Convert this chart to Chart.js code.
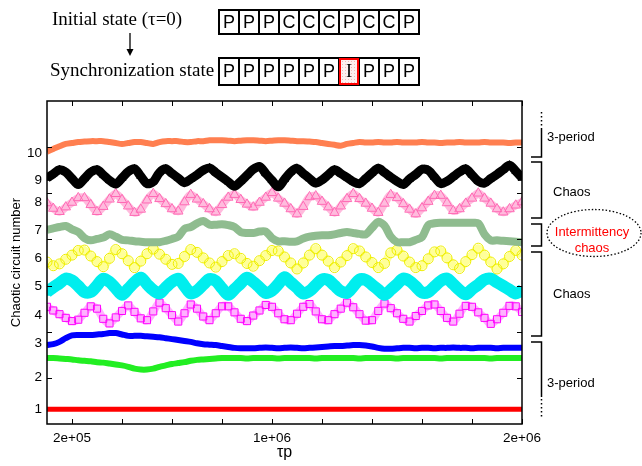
<!DOCTYPE html>
<html lang="en">
<head>
<meta charset="UTF-8">
<title>Chaotic circuit number vs tau_p</title>
<script src="https://cdn.jsdelivr.net/npm/chart.js"></script>
<style>
  body { margin: 0; background: #fff; }
  .fig { position: relative; width: 642px; height: 466px; color: #000;
         font-family: 'Liberation Sans', Arial, Helvetica, sans-serif; }
  .fig canvas { position: absolute; left: 0; top: 0; }
  .fig svg { position: absolute; left: 0; top: 0; }
  .txt { position: absolute; white-space: nowrap; line-height: 1; }
  .serif { font-family: 'Liberation Serif', 'Times New Roman', serif; font-size: 19px; }
  .cells { position: absolute; display: flex; border: 1px solid #000; }
  .cells div { width: 20px; box-sizing: border-box; border: 1px solid #000; font-size: 18px;
               display: flex; align-items: center; justify-content: center; }
  .cells div.hot { border: 2px solid #f00; font-family: 'Liberation Serif', serif;
                   background: radial-gradient(#f4b8b8 0.6px, #fdf0f0 0.8px) 0 0 / 3px 3px; }
  .note { position: absolute; font-size: 13px; line-height: 1; white-space: nowrap; }
  .note.red { color: #f00; width: 100px; text-align: center; }
</style>
</head>
<body>
<div class="fig">
  <canvas id="chart" width="642" height="466"></canvas>

  <div class="txt serif" style="left:52px;top:9px">Initial state (τ=0)</div>
  <div class="txt serif" style="left:50px;top:60px">Synchronization state</div>
  <div class="cells" id="row1" style="left:218px;top:9px;height:24px"></div>
  <div class="cells" id="row2" style="left:218px;top:57px;height:27px"></div>

  <svg width="642" height="466">
    <line x1="130" y1="33" x2="130" y2="50" stroke="#000" stroke-width="1.3"/>
    <polygon points="126.5,49 133.5,49 130,56" fill="#000"/>
    <g stroke="#000" stroke-width="1.5" fill="none">
      <line x1="541.5" y1="112" x2="541.5" y2="128" stroke-dasharray="1.5,2.5"/>
      <path d="M541.5,128 V157 H531"/>
      <path d="M531,162 H541.5 V218 H531"/>
      <path d="M531,224 H541.5 V246 H531"/>
      <path d="M531,252 H541.5 V336 H531"/>
      <path d="M531,342 H541.5 V397"/>
      <line x1="541.5" y1="399" x2="541.5" y2="418" stroke-dasharray="1.5,2.5"/>
      <ellipse cx="594" cy="233" rx="47" ry="23.5" stroke-width="1.3" stroke-dasharray="1.5,2"/>
    </g>
  </svg>

  <div class="note" style="left:547px;top:130px">3-period</div>
  <div class="note" style="left:553px;top:185px">Chaos</div>
  <div class="note red" style="left:542px;top:225px">Intermittency</div>
  <div class="note red" style="left:542px;top:241px">chaos</div>
  <div class="note" style="left:553px;top:287px">Chaos</div>
  <div class="note" style="left:547px;top:376px">3-period</div>
</div>

<script>
// tau_p sampling, in thousands
const tauK = [
  100,125,150,175,200,225,250,275,300,325,
  350,375,400,425,450,475,500,525,550,575,
  600,625,650,675,700,725,750,775,800,825,
  850,875,900,925,950,975,1000,1025,1050,1075,
  1100,1125,1150,1175,1200,1225,1250,1275,1300,1325,
  1350,1375,1400,1425,1450,1475,1500,1525,1550,1575,
  1600,1625,1650,1675,1700,1725,1750,1775,1800,1825,
  1850,1875,1900,1925,1950,1975,2000
];
const tau = tauK.map(v => v * 1000);

// one trace per circuit (offset on the y axis)
const circuit10 = [
  5.90,5.96,6.02,6.07,6.09,6.11,6.12,6.13,6.13,6.13,
  6.11,6.09,6.07,6.09,6.11,6.11,6.09,6.07,6.11,6.13,
  6.13,6.13,6.11,6.11,6.13,6.13,6.15,6.15,6.15,6.14,
  6.13,6.14,6.15,6.15,6.14,6.13,6.14,6.15,6.15,6.14,
  6.13,6.13,6.12,6.11,6.09,6.07,6.05,6.03,6.07,6.09,
  6.11,6.10,6.10,6.11,6.10,6.10,6.11,6.10,6.10,6.10,
  6.11,6.10,6.10,6.09,6.10,6.10,6.11,6.10,6.10,6.10,
  6.11,6.10,6.10,6.10,6.09,6.10,6.10
];
const circuit9 = [
  5.33,5.42,5.51,5.46,5.32,5.19,5.32,5.46,5.51,5.40,
  5.28,5.20,5.33,5.47,5.53,5.37,5.21,5.25,5.45,5.53,
  5.43,5.33,5.23,5.31,5.40,5.50,5.55,5.45,5.35,5.25,
  5.15,5.26,5.39,5.52,5.58,5.43,5.28,5.14,5.30,5.46,
  5.54,5.43,5.32,5.22,5.29,5.40,5.51,5.43,5.34,5.25,
  5.21,5.32,5.44,5.54,5.45,5.35,5.26,5.19,5.31,5.41,
  5.52,5.50,5.35,5.21,5.26,5.36,5.46,5.53,5.40,5.26,
  5.22,5.32,5.41,5.51,5.61,5.48,5.33
];
const circuit8 = [
  4.79,4.67,4.60,4.70,4.80,4.90,4.90,4.75,4.60,4.71,
  4.87,4.99,4.86,4.72,4.58,4.65,4.85,4.99,4.88,4.77,
  4.66,4.61,4.81,4.97,4.87,4.77,4.66,4.59,4.75,4.91,
  4.97,4.86,4.76,4.70,4.80,4.91,5.01,4.89,4.78,4.66,
  4.55,4.71,4.92,4.94,4.82,4.70,4.58,4.72,4.88,4.99,
  4.88,4.78,4.67,4.58,4.78,4.97,4.90,4.77,4.65,4.55,
  4.68,4.82,4.95,4.95,4.79,4.62,4.66,4.78,4.89,5.00,
  4.89,4.78,4.66,4.59,4.66,4.74,4.81
];
const circuit7 = [
  4.21,4.24,4.27,4.29,4.22,4.16,4.03,3.98,4.01,4.04,
  4.11,4.06,3.99,3.98,3.96,3.95,3.94,3.94,3.94,3.97,
  4.01,4.06,4.23,4.27,4.35,4.40,4.32,4.32,4.33,4.31,
  4.27,4.16,4.14,4.14,4.17,4.17,4.03,3.96,3.96,3.95,
  3.96,4.02,4.06,4.08,4.09,4.09,4.11,4.14,4.16,4.14,
  4.12,4.11,4.25,4.38,4.30,4.06,3.94,3.94,3.94,3.99,
  4.05,4.31,4.35,4.36,4.36,4.36,4.36,4.36,4.36,4.35,
  4.11,3.98,3.98,3.97,3.96,3.95,3.94
];
const circuit6 = [
  3.51,3.43,3.47,3.57,3.66,3.76,3.77,3.64,3.52,3.41,
  3.59,3.78,3.69,3.54,3.39,3.53,3.69,3.79,3.68,3.57,
  3.46,3.48,3.63,3.78,3.72,3.60,3.49,3.40,3.52,3.65,
  3.69,3.59,3.48,3.42,3.54,3.65,3.76,3.75,3.62,3.49,
  3.36,3.49,3.66,3.80,3.66,3.53,3.39,3.51,3.65,3.80,
  3.75,3.62,3.50,3.39,3.48,3.71,3.77,3.64,3.51,3.39,
  3.43,3.58,3.73,3.75,3.60,3.45,3.37,3.52,3.67,3.81,
  3.66,3.51,3.36,3.47,3.63,3.76,3.66
];
const circuit5 = [
  2.86,2.96,3.05,3.15,3.11,2.99,2.86,2.86,3.00,3.15,
  3.08,2.94,2.80,2.93,3.07,3.17,3.03,2.90,2.83,2.96,
  3.08,3.15,2.99,2.83,2.89,3.02,3.14,3.10,2.94,2.80,
  2.92,3.05,3.17,3.08,2.96,2.84,2.89,3.03,3.18,3.07,
  2.95,2.83,2.88,3.01,3.13,3.12,3.00,2.88,2.84,2.98,
  3.13,3.12,3.02,2.91,2.80,2.91,3.03,3.15,3.10,2.98,
  2.85,2.86,2.98,3.10,3.15,3.03,2.90,2.81,2.92,3.02,
  3.13,3.15,3.07,2.99,2.91,2.83,2.90
];
const circuit4 = [
  2.54,2.46,2.38,2.30,2.23,2.26,2.41,2.55,2.50,2.28,
  2.18,2.31,2.45,2.57,2.43,2.29,2.25,2.44,2.63,2.51,
  2.36,2.22,2.40,2.59,2.50,2.33,2.25,2.40,2.55,2.55,
  2.42,2.28,2.23,2.35,2.46,2.58,2.54,2.40,2.27,2.25,
  2.39,2.54,2.60,2.44,2.27,2.25,2.38,2.50,2.63,2.53,
  2.38,2.24,2.25,2.45,2.61,2.51,2.40,2.28,2.22,2.34,
  2.45,2.57,2.59,2.45,2.30,2.22,2.39,2.56,2.54,2.42,
  2.30,2.17,2.27,2.41,2.56,2.55,2.43
];
const circuit3 = [
  1.71,1.73,1.78,1.86,1.92,1.93,1.93,1.93,1.94,1.95,
  1.97,1.97,1.94,1.91,1.91,1.91,1.90,1.89,1.88,1.86,
  1.84,1.82,1.80,1.78,1.75,1.73,1.72,1.71,1.69,1.67,
  1.65,1.64,1.64,1.64,1.65,1.66,1.65,1.64,1.65,1.66,
  1.65,1.64,1.65,1.66,1.67,1.68,1.69,1.69,1.70,1.71,
  1.71,1.70,1.68,1.65,1.63,1.63,1.64,1.65,1.65,1.64,
  1.65,1.65,1.64,1.65,1.65,1.66,1.65,1.65,1.64,1.65,
  1.65,1.65,1.64,1.65,1.65,1.65,1.65
];
const circuit2 = [
  1.43,1.43,1.42,1.41,1.40,1.38,1.37,1.36,1.34,1.33,
  1.31,1.29,1.27,1.24,1.20,1.18,1.18,1.20,1.24,1.27,
  1.30,1.32,1.34,1.37,1.39,1.40,1.41,1.42,1.43,1.43,
  1.43,1.43,1.42,1.43,1.43,1.43,1.43,1.42,1.43,1.43,
  1.43,1.43,1.43,1.42,1.43,1.43,1.43,1.43,1.43,1.43,
  1.42,1.43,1.43,1.43,1.43,1.43,1.42,1.43,1.43,1.43,
  1.43,1.43,1.43,1.42,1.43,1.43,1.43,1.43,1.43,1.43,
  1.43,1.42,1.43,1.43,1.43,1.43,1.43
];
const circuit1 = [
  0.32,0.32,0.32,0.32,0.32,0.32,0.32,0.32,0.32,0.32,
  0.32,0.32,0.32,0.32,0.32,0.32,0.32,0.32,0.32,0.32,
  0.32,0.32,0.32,0.32,0.32,0.32,0.32,0.32,0.32,0.32,
  0.32,0.32,0.32,0.32,0.32,0.32,0.32,0.32,0.32,0.32,
  0.32,0.32,0.32,0.32,0.32,0.32,0.32,0.32,0.32,0.32,
  0.32,0.32,0.32,0.32,0.32,0.32,0.32,0.32,0.32,0.32,
  0.32,0.32,0.32,0.32,0.32,0.32,0.32,0.32,0.32,0.32,
  0.32,0.32,0.32,0.32,0.32,0.32,0.32
];

// axis ticks and labels
const yLabelPos = [0.32, 1.02, 1.76, 2.36, 2.98, 3.60, 4.20, 4.80, 5.29, 5.87];
const yLabels = ['1', '2', '3', '4', '5', '6', '7', '8', '9', '10'];
const yTickVals = [1, 2, 3, 4, 5, 6];
const xTickVals = [2e5, 4e5, 6e5, 8e5, 1e6, 1.2e6, 1.4e6, 1.6e6, 1.8e6, 2e6];
const xTickLabels = ['2e+05', '', '', '', '1e+06', '', '', '', '', '2e+06'];

// circuit states in the top diagram
const initState = ['P', 'P', 'P', 'C', 'C', 'C', 'P', 'C', 'C', 'P'];
const syncState = ['P', 'P', 'P', 'P', 'P', 'P', 'I', 'P', 'P', 'P'];

function fillRow(id, states) {
  const row = document.getElementById(id);
  states.forEach(s => {
    const d = document.createElement('div');
    d.textContent = s;
    if (s === 'I') d.className = 'hot';
    row.appendChild(d);
  });
}
fillRow('row1', initState);
fillRow('row2', syncState);

const pts = arr => tau.map((t, i) => ({ x: t, y: arr[i] }));

function band(data, color, width) {
  return { data: pts(data), borderColor: color, borderWidth: width, pointRadius: 0, tension: 0.3 };
}
// lineColor draws the band under the markers
function marks(data, color, lineColor, style, radius, filled, lineWidth) {
  return {
    data: pts(data), borderColor: lineColor, borderWidth: lineWidth, tension: 0.3,
    pointStyle: style, pointRadius: radius, pointBorderWidth: 1,
    pointBorderColor: color, pointBackgroundColor: filled ? color : 'rgba(0,0,0,0)'
  };
}

const frameTicks = {
  id: 'frameTicks',
  afterDatasetsDraw(chart) {
    const { ctx, chartArea: a, scales } = chart;
    ctx.save();
    ctx.strokeStyle = '#000';
    ctx.lineWidth = 1;
    ctx.beginPath();
    xTickVals.forEach(v => {
      const p = Math.round(scales.x.getPixelForValue(v)) + 0.5;
      ctx.moveTo(p, a.bottom); ctx.lineTo(p, a.bottom - 5);
      ctx.moveTo(p, a.top); ctx.lineTo(p, a.top + 5);
    });
    yTickVals.forEach(v => {
      const p = Math.round(scales.y.getPixelForValue(v)) + 0.5;
      ctx.moveTo(a.left, p); ctx.lineTo(a.left + 5, p);
      ctx.moveTo(a.right, p); ctx.lineTo(a.right - 5, p);
    });
    ctx.stroke();
    ctx.lineWidth = 1.5;
    ctx.strokeRect(a.left, a.top, a.right - a.left, a.bottom - a.top);
    ctx.restore();
  }
};

Chart.defaults.color = '#000';
Chart.defaults.font.family = "'Liberation Sans', Arial, Helvetica, sans-serif";

new Chart(document.getElementById('chart'), {
  type: 'line',
  data: {
    datasets: [
      band(circuit10, '#ff7f50', 6),
      marks(circuit9, '#000000', '#000000', 'triangle', 4.5, true, 9),
      marks(circuit8, '#ff69b4', 'rgba(255,105,180,0.45)', 'triangle', 5.5, false, 8),
      band(circuit7, '#8fbc8f', 8),
      marks(circuit6, '#eeee00', 'rgba(255,255,0,0.4)', 'circle', 5, false, 8),
      marks(circuit5, '#00eeee', '#00eeee', 'rect', 4.5, true, 12),
      marks(circuit4, '#ff00ff', 'rgba(255,0,255,0.3)', 'rect', 5, false, 8),
      band(circuit3, '#0000ff', 6),
      band(circuit2, '#22ee22', 6),
      band(circuit1, '#ff0000', 5)
    ]
  },
  options: {
    responsive: false,
    animation: false,
    devicePixelRatio: 1,
    layout: { padding: { top: 101, right: 120, left: 0, bottom: 0 } },
    plugins: { legend: { display: false }, tooltip: { enabled: false } },
    scales: {
      x: {
        type: 'linear', min: 1e5, max: 2e6,
        grid: { display: false, drawTicks: false }, border: { display: false },
        afterBuildTicks: s => { s.ticks = xTickVals.map(v => ({ value: v })); },
        afterFit: s => { s.height = 42; },
        ticks: { autoSkip: false, maxRotation: 0, padding: 6, font: { size: 13.5 },
                 callback: (v, i) => xTickLabels[i] },
        title: { display: true, text: 'τp', font: { size: 16 }, padding: { top: 0, bottom: 4 } }
      },
      y: {
        type: 'linear', min: 0, max: 7,
        grid: { display: false, drawTicks: false }, border: { display: false },
        afterBuildTicks: s => { s.ticks = yLabelPos.map(v => ({ value: v })); },
        afterFit: s => { s.width = 47; },
        ticks: { autoSkip: false, padding: 5, font: { size: 13.5 },
                 callback: (v, i) => yLabels[i] },
        title: { display: true, text: 'Chaotic circuit number', font: { size: 13 },
                 padding: { top: 9, bottom: 0 } }
      }
    }
  },
  plugins: [frameTicks]
});
</script>
</body>
</html>
